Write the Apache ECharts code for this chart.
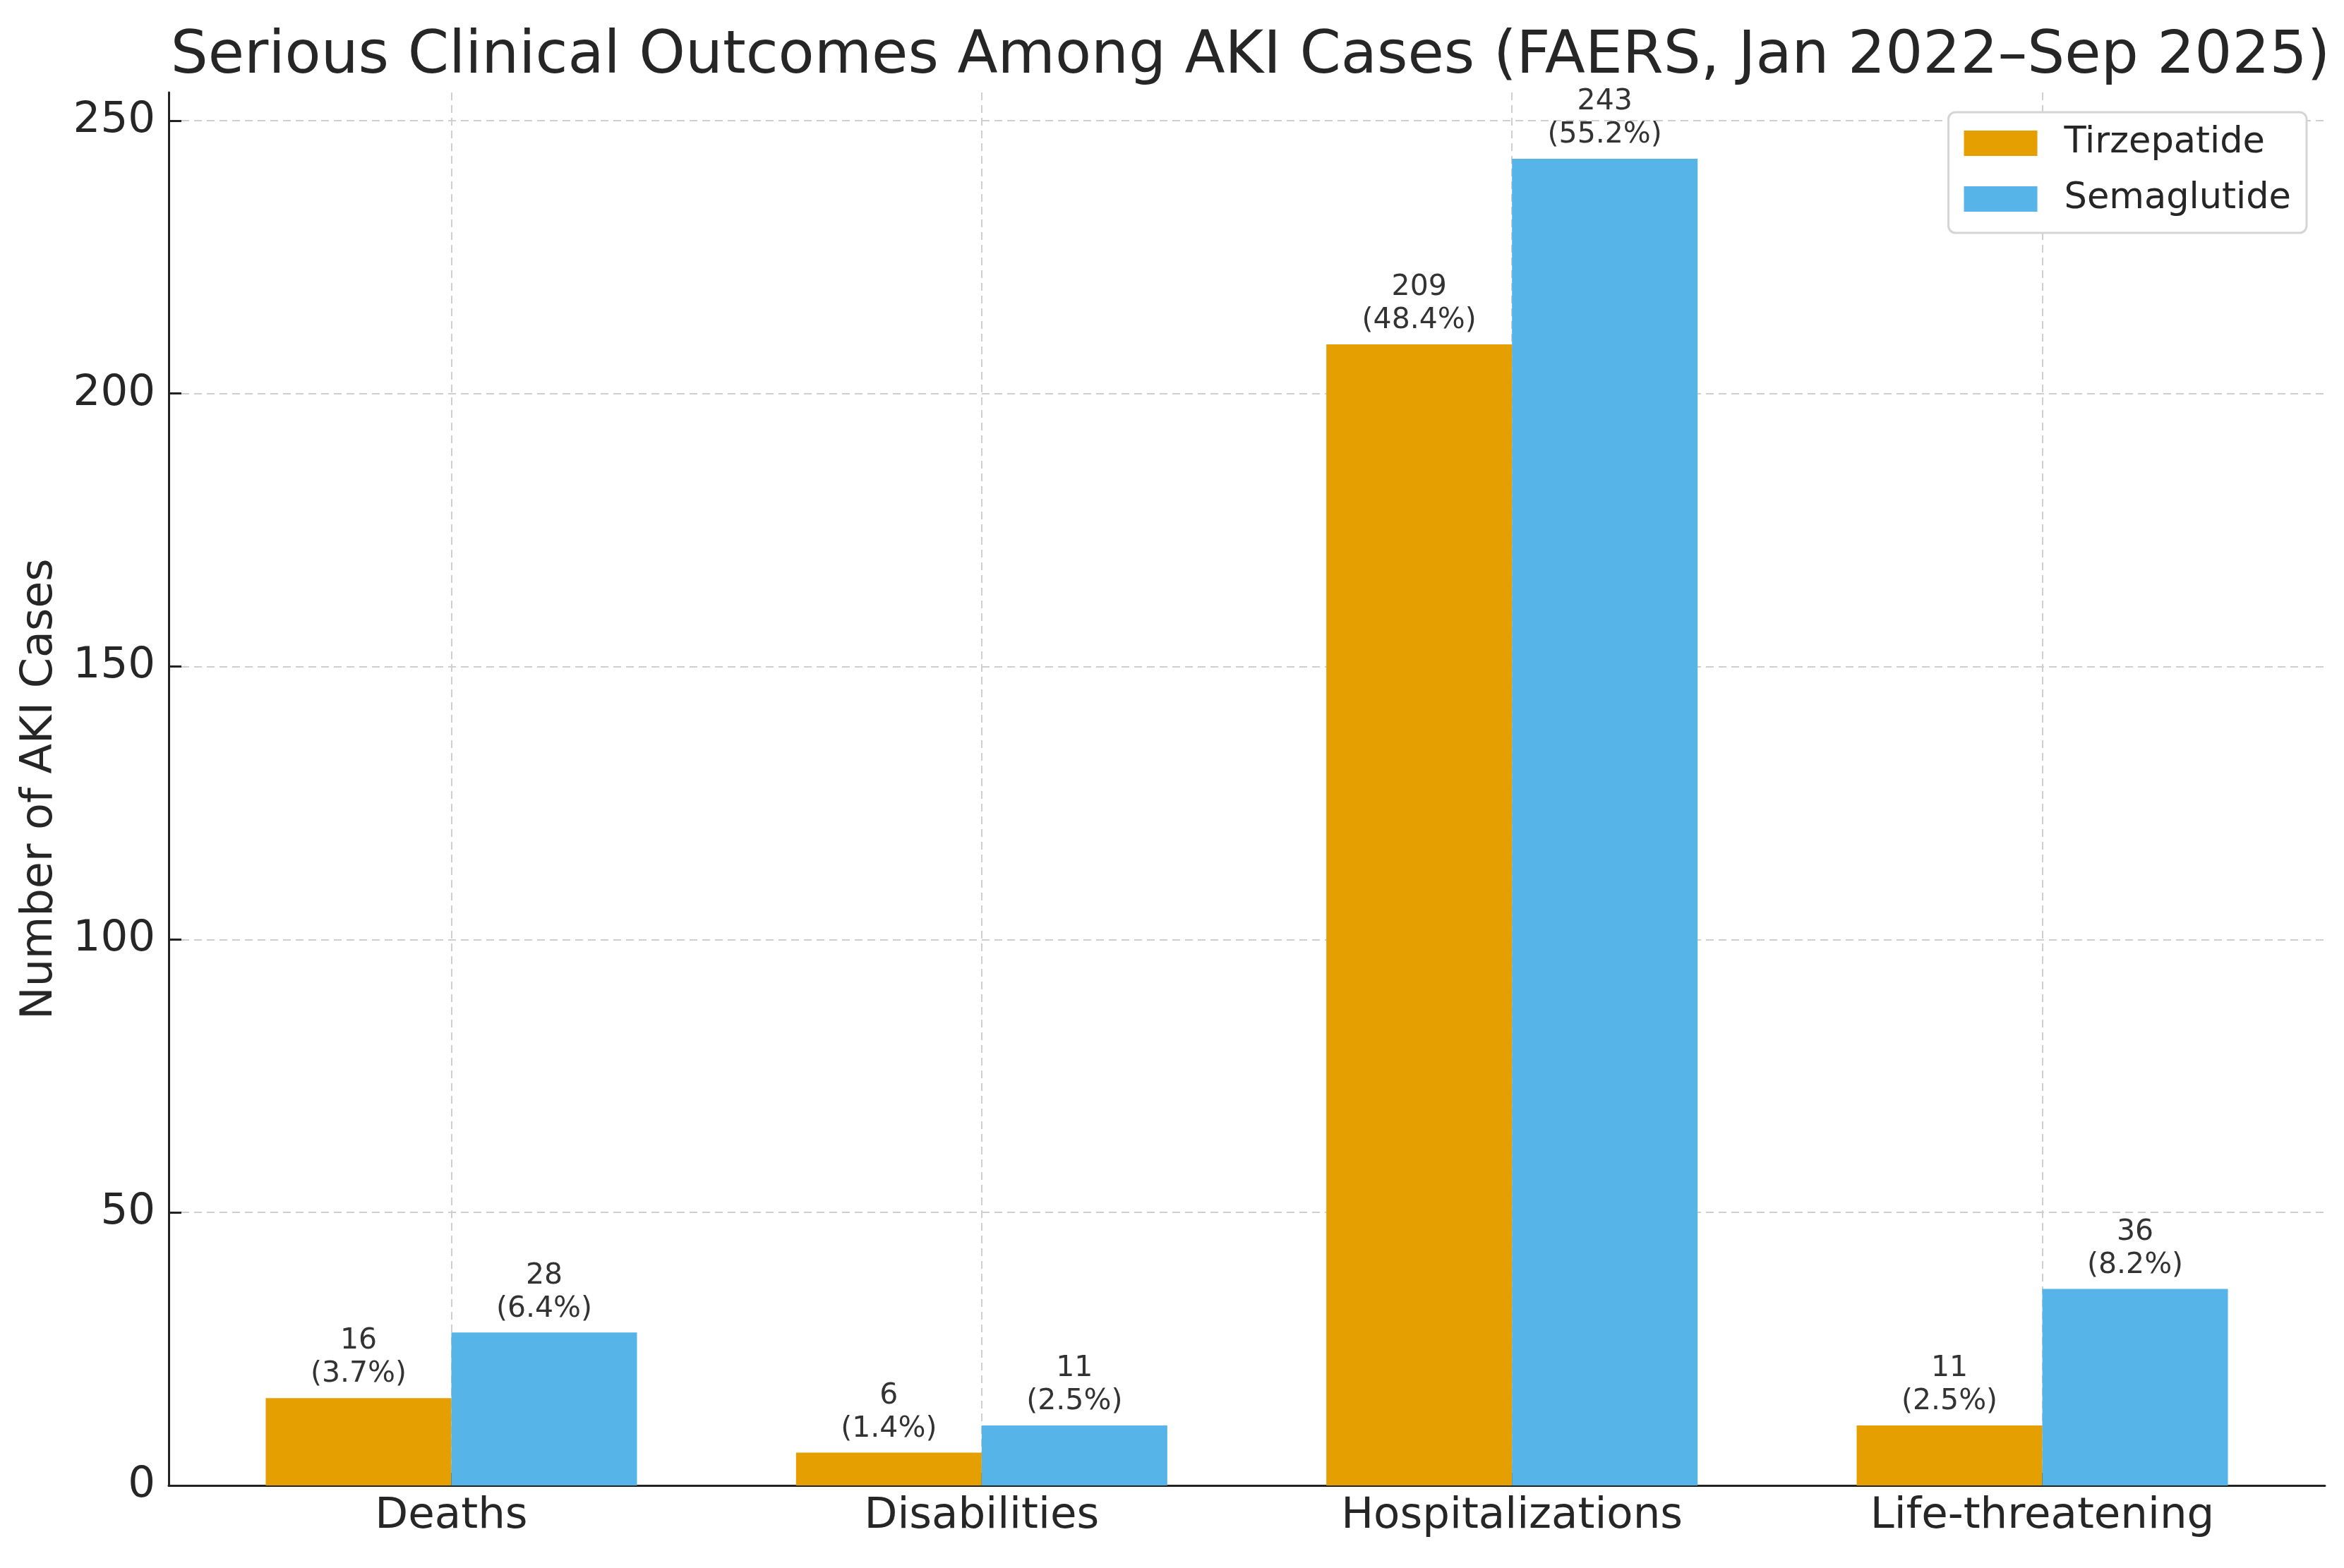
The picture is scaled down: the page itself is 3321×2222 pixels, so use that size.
<!DOCTYPE html>
<html>
<head>
<meta charset="utf-8">
<script src="https://cdn.jsdelivr.net/npm/echarts@6/dist/echarts.min.js"></script>
<style>
html,body{margin:0;padding:0;background:#fff;}
#chart{width:3321px;height:2222px;}
</style>
</head>
<body>
<div id="chart"></div>
<script>
const categories = ['Deaths', 'Disabilities', 'Hospitalizations', 'Life-threatening'];
const tirzepatide = [16, 6, 209, 11];
const semaglutide = [28, 11, 243, 36];
const tirzepatidePct = [3.7, 1.4, 48.4, 2.5];
const semaglutidePct = [6.4, 2.5, 55.2, 8.2];
const yTicks = [0, 50, 100, 150, 200, 250];
const xTicks = [0, 1, 2, 3];

const FONT = 'DejaVu Sans';
const TEXT = '#262626';

const titleText = 'Serious Clinical Outcomes Among AKI Cases (FAERS, Jan 2022\u2013Sep 2025)';
const cv = document.createElement('canvas').getContext('2d');
cv.font = '83.5px "DejaVu Sans"';
const titleW = cv.measureText(titleText).width;
const plotLeft = 239, plotRight = 3294;
const titleLeft = (plotLeft + plotRight) / 2 - titleW / 2;

const chart = echarts.init(document.getElementById('chart'), null, {renderer: 'canvas'});

function labelFor(pcts) {
  return function (p) {
    return p.value[1] + '\n(' + pcts[p.dataIndex].toFixed(1) + '%)';
  };
}

const option = {
  backgroundColor: '#ffffff',
  animation: false,
  textStyle: {fontFamily: FONT},
  title: {
    text: titleText,
    left: titleLeft,
    top: 34,
    textStyle: {fontFamily: FONT, fontSize: 83.5, fontWeight: 'normal', color: TEXT, lineHeight: 84}
  },
  legend: {
    right: 53,
    top: 159,
    orient: 'vertical',
    itemWidth: 104,
    itemHeight: 36,
    itemGap: 27,
    padding: [18, 22, 22, 22],
    borderColor: '#d5d5d5',
    borderWidth: 3,
    borderRadius: 10,
    backgroundColor: '#ffffff',
    icon: 'rect',
    textStyle: {fontFamily: FONT, fontSize: 51, color: TEXT, lineHeight: 52, padding: [0, 0, 0, 33]},
    data: ['Tirzepatide', 'Semaglutide']
  },
  grid: {left: plotLeft, right: 3321 - plotRight, top: 131, bottom: 2222 - 2105, containLabel: false, outerBoundsMode: 'none'},
  xAxis: {
    type: 'value',
    min: -0.533,
    max: 3.533,
    axisLine: {show: true, onZero: false, lineStyle: {color: '#222', width: 3}},
    axisTick: {show: true, inside: true, length: 18, customValues: xTicks, lineStyle: {color: '#222', width: 3}},
    axisLabel: {
      customValues: xTicks,
      formatter: function (v) { return categories[Math.round(v)]; },
      fontFamily: FONT, fontSize: 61, color: TEXT, margin: 14
    },
    splitLine: {show: true, lineStyle: {color: '#cfcfcf', width: 2, type: [11, 7]}}
  },
  yAxis: {
    type: 'value',
    min: 0,
    max: 255.15,
    name: 'Number of AKI Cases',
    nameLocation: 'middle',
    nameGap: 151,
    nameRotate: 90,
    nameMoveOverlap: false,
    nameTextStyle: {fontFamily: FONT, fontSize: 62, color: TEXT},
    axisLine: {show: true, onZero: false, lineStyle: {color: '#222', width: 3}},
    axisTick: {show: true, inside: true, length: 18, customValues: yTicks, lineStyle: {color: '#222', width: 3}},
    axisLabel: {customValues: yTicks, fontFamily: FONT, fontSize: 61, color: TEXT, margin: 19},
    splitLine: {show: true, lineStyle: {color: '#cfcfcf', width: 2, type: [11, 7]}}
  },
  series: [
    {
      name: 'Tirzepatide',
      type: 'bar',
      barWidth: 263,
      barGap: '0%',
      itemStyle: {color: '#E69F00'},
      data: tirzepatide.map(function (v, i) { return [i, v]; }),
      label: {
        show: true, position: 'top', distance: 10,
        fontFamily: FONT, fontSize: 41, color: '#333', lineHeight: 47,
        formatter: labelFor(tirzepatidePct)
      }
    },
    {
      name: 'Semaglutide',
      type: 'bar',
      barWidth: 263,
      barGap: '0%',
      itemStyle: {color: '#56B4E9'},
      data: semaglutide.map(function (v, i) { return [i, v]; }),
      label: {
        show: true, position: 'top', distance: 10,
        fontFamily: FONT, fontSize: 41, color: '#333', lineHeight: 47,
        formatter: labelFor(semaglutidePct)
      }
    }
  ]
};
chart.setOption(option);
</script>
</body>
</html>
